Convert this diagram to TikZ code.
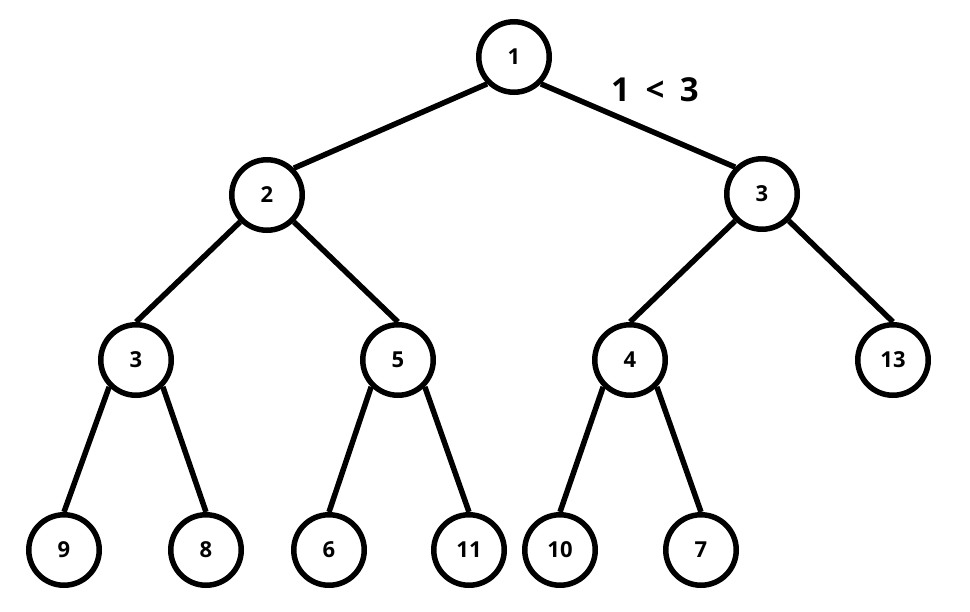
\documentclass[tikz,border=0pt]{standalone}
\usepackage{fontspec}
\setmainfont{Open Sans}
\usetikzlibrary{calc}
\tikzset{vertex/.style={draw, circle, line width=5.5pt, minimum size=70.5pt, inner sep=0pt, font=\fontsize{22}{22}\selectfont\bfseries},
	link/.style={line width=5.5pt}}

\begin{document}
\begin{tikzpicture}[x=1pt,y=-1pt]
				\useasboundingbox (0,0) rectangle (970,611);
				
				\node[vertex] (n1) at (514,57) {1};
				\node[vertex] (n2) at (267,195) {2};
				\node[vertex] (n3) at (762,194) {3};
				
				\node[vertex] (n4) at (136,360) {3};
				\node[vertex] (n5) at (398,360) {5};
				\node[vertex] (n6) at (630,360) {4};
				\node[vertex] (n7) at (893,360) {13};
				
				\node[vertex] (n8) at (64,550) {9};
				\node[vertex] (n9) at (206,550) {8};
				\node[vertex] (n10) at (329,550) {6};
				\node[vertex] (n11) at (469,550) {11};
				\node[vertex] (n12) at (560,550) {10};
				\node[vertex] (n13) at (701,550) {7};
				
				\draw[link] (n1.south west) -- (n2.north east);
				\draw[link] (n1.south east) -- (n3.north west);
				\draw[link] (n2.south west) -- (n4.north);
				\draw[link] (n2.south east) -- (n5.north);
				\draw[link] (n3.south west) -- (n6.north);
				\draw[link] (n3.south east) -- (n7.north);
				\draw[link] (n4.south west) -- (n8.north);
				\draw[link] (n4.south east) -- (n9.north);
				\draw[link] (n5.south west) -- (n10.north);
				\draw[link] (n5.south east) -- (n11.north);
				\draw[link] (n6.south west) -- (n12.north);
				\draw[link] (n6.south east) -- (n13.north);
				
				\node[font=\fontsize{33}{33}\selectfont\bfseries] (cmp) at (655,90) {1\hspace{7pt} < \hspace{7pt}3};
			\end{tikzpicture}
\end{document}
